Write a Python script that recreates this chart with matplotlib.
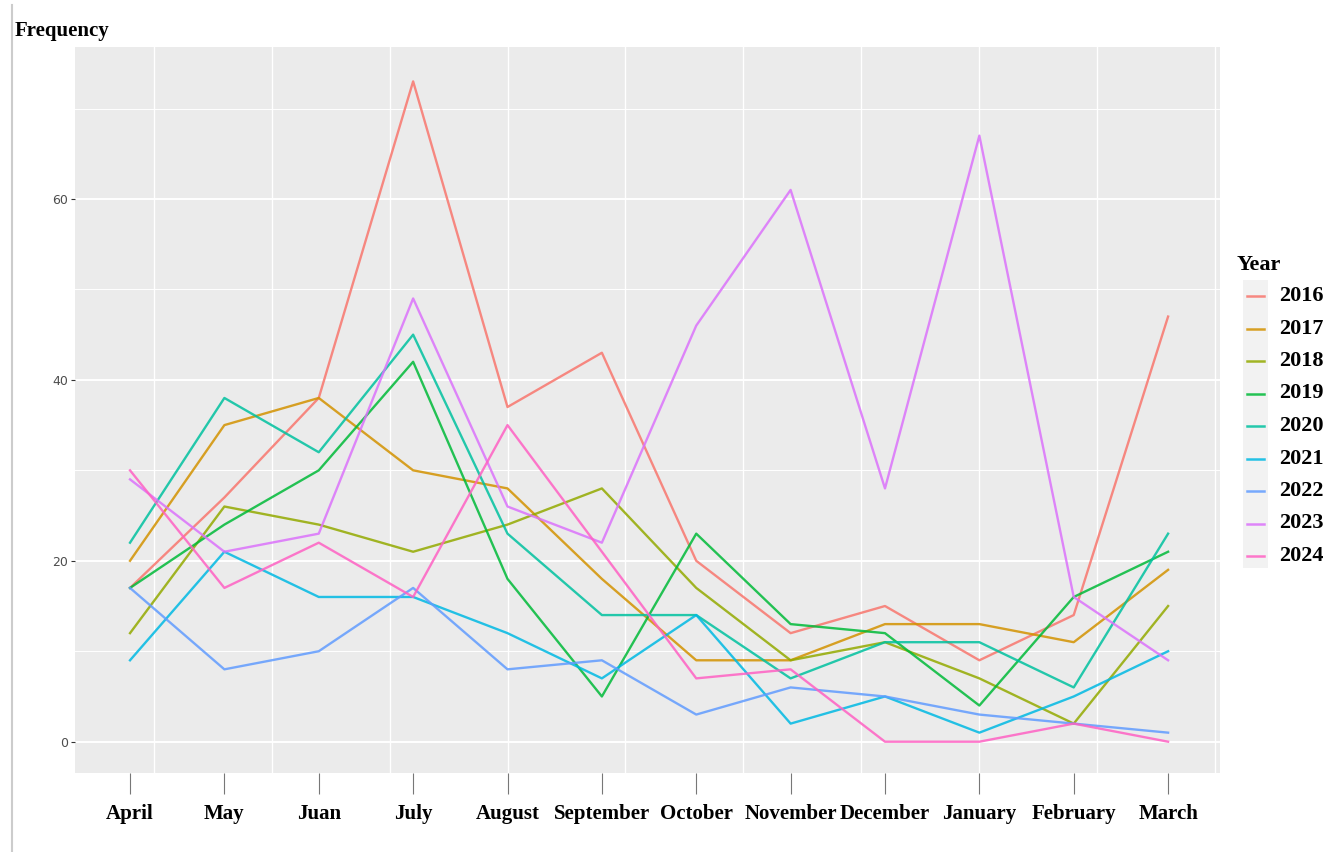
import matplotlib
matplotlib.use('Agg')
import matplotlib.pyplot as plt
from matplotlib.lines import Line2D
from matplotlib.patches import Rectangle
import numpy as np

months = ['April', 'May', 'Juan', 'July', 'August', 'September', 'October',
          'November', 'December', 'January', 'February', 'March']
years = ['2016', '2017', '2018', '2019', '2020', '2021', '2022', '2023', '2024']

y2016 = [17, 27, 38, 73, 37, 43, 20, 12, 15, 9, 14, 47]
y2017 = [20, 35, 38, 30, 28, 18, 9, 9, 13, 13, 11, 19]
y2018 = [12, 26, 24, 21, 24, 28, 17, 9, 11, 7, 2, 15]
y2019 = [17, 24, 30, 42, 18, 5, 23, 13, 12, 4, 16, 21]
y2020 = [22, 38, 32, 45, 23, 14, 14, 7, 11, 11, 6, 23]
y2021 = [9, 21, 16, 16, 12, 7, 14, 2, 5, 1, 5, 10]
y2022 = [17, 8, 10, 17, 8, 9, 3, 6, 5, 3, 2, 1]
y2023 = [29, 21, 23, 49, 26, 22, 46, 61, 28, 67, 16, 9]
y2024 = [30, 17, 22, 16, 35, 21, 7, 8, 0, 0, 2, 0]

series = [y2016, y2017, y2018, y2019, y2020, y2021, y2022, y2023, y2024]
colors = ['#F8766D', '#D39200', '#93AA00', '#00BA38', '#00C19F',
          '#00B9E3', '#619CFF', '#DB72FB', '#FF61C3']

W, H = 1332, 852
serif = ['Liberation Serif', 'DejaVu Serif']

def fx(px):
	return px / W

def fy(py):
	return 1 - py / H

fig = plt.figure(figsize = (13.32, 8.52), dpi = 100)
ax = fig.add_axes([fx(75), fy(773), fx(1220) - fx(75), fy(47) - fy(773)])
ax.set_facecolor('#EBEBEB')

x = np.arange(len(months))

# grid like ggplot
for v in [10, 30, 50, 70]:
	ax.axhline(v, color = 'white', lw = 0.7, zorder = 0)
for v in [0, 20, 40, 60]:
	ax.axhline(v, color = 'white', lw = 1.4, zorder = 0)
for v in np.arange(0.25, 11.6, 1.25):
	ax.axvline(v, color = 'white', lw = 1.0, zorder = 0)

for s, c in zip(series, colors):
	ax.plot(x, s, color = c, lw = 1.7, alpha = 0.85, zorder = 2)

ax.set_xlim(-0.583, 11.55)
ax.set_ylim(-3.46, 76.8)

ax.set_yticks([0, 20, 40, 60])
ax.tick_params(axis = 'y', colors = '#333333', labelcolor = '#4D4D4D', labelsize = 9, length = 3, width = 0.8, pad = 2)
ax.set_xticks(x)
ax.set_xticklabels(months, fontfamily = serif, fontweight = 'bold', fontsize = 15)
ax.tick_params(axis = 'x', colors = '#777777', labelcolor = 'black', length = 15, width = 0.8, pad = 7)

for sp in ax.spines.values():
	sp.set_visible(False)

fig.text(fx(15), fy(31), 'Frequency', family = serif, fontweight = 'bold', fontsize = 15, va = 'center', ha = 'left')

# left border line of the image
fig.add_artist(Line2D([fx(12), fx(12)], [fy(5), fy(852)], color = '#CCCCCC', lw = 1.5))

# legend
fig.text(fx(1237), fy(265), 'Year', family = serif, fontweight = 'bold', fontsize = 16, va = 'center', ha = 'left')
fig.add_artist(Rectangle((fx(1243), fy(568)), fx(1268) - fx(1243), fy(280) - fy(568), facecolor = '#F2F2F2', edgecolor = 'none'))
for i, (yr, c) in enumerate(zip(years, colors)):
	py = 296 + i * 32.5
	fig.add_artist(Line2D([fx(1247), fx(1264)], [fy(py), fy(py)], color = c, lw = 1.8, alpha = 0.85))
	fig.text(fx(1279), fy(py), yr, family = serif, fontweight = 'bold', fontsize = 16, va = 'center', ha = 'left')

plt.savefig('out.png', dpi = 100)
